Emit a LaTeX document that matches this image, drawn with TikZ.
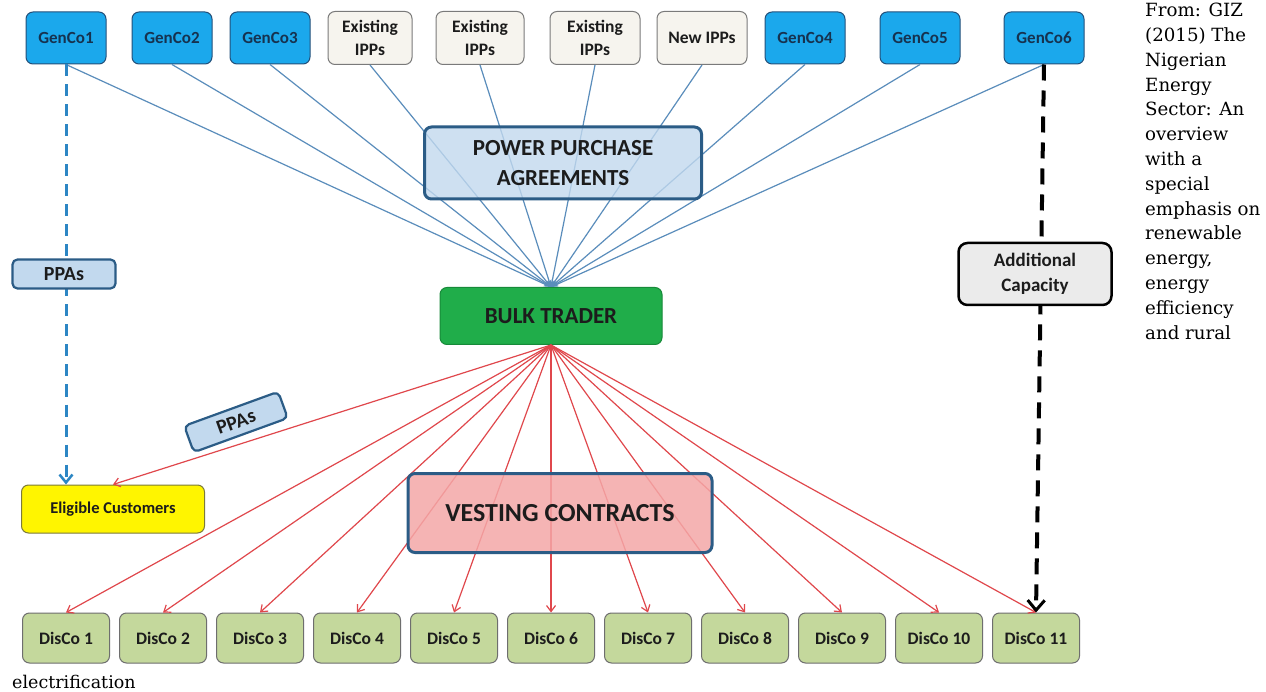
\documentclass[tikz,border=0pt]{standalone}
\usepackage{fontspec}
\setmainfont{Carlito}
\newfontfamily\rtserif{DejaVu Serif}
\usetikzlibrary{arrows.meta}
\definecolor{gencofill}{HTML}{1BA8EC}
\definecolor{gencoedge}{HTML}{24507A}
\definecolor{gencotext}{HTML}{16324F}
\definecolor{ippfill}{HTML}{F6F4EE}
\definecolor{ippedge}{HTML}{7A7A7A}
\definecolor{bluelink}{HTML}{5A8DBB}
\definecolor{redlink}{HTML}{E0474C}
\definecolor{ppafill}{HTML}{C2D9EE}
\definecolor{darkedge}{HTML}{2B5C86}
\definecolor{btfill}{HTML}{20AD4A}
\definecolor{btedge}{HTML}{178A39}
\definecolor{vcfill}{HTML}{F4A7A7}
\definecolor{discofill}{HTML}{C4D89C}
\definecolor{discoedge}{HTML}{6E6E6E}
\definecolor{ecfill}{HTML}{FFF500}
\definecolor{ecedge}{HTML}{7C7A3A}
\definecolor{acfill}{HTML}{EBEBEB}
\definecolor{dashblue}{HTML}{2C86C4}
\definecolor{txt}{HTML}{1C1C1C}
\begin{document}
\begin{tikzpicture}[x=1pt,y=-1pt,
  box/.style={draw, rounded corners=7pt, align=center, inner sep=0pt, line width=1pt,
    text=txt, font=\bfseries\fontsize{17.5}{23}\selectfont},
  gencobox/.style={box, fill=gencofill, draw=gencoedge, text=gencotext, minimum width=80pt, minimum height=52pt,
    font=\bfseries\fontsize{17}{21}\selectfont},
  ippbox/.style={box, fill=ippfill, draw=ippedge, minimum height=53pt},
  discobox/.style={box, fill=discofill, draw=discoedge, minimum width=87pt, minimum height=50pt},
  bluelinkstyle/.style={draw=bluelink, line width=1.2pt, -{Stealth[length=7pt,width=5pt]}},
  redlinkstyle/.style={draw=redlink, line width=1.2pt, -{Straight Barb[length=6pt,width=9pt]}},
]
\useasboundingbox (0,0) rectangle (1266,692);
\fill[white] (0,0) rectangle (1266,692);

% top row
\node[gencobox] (g1) at (66,38) {GenCo1};
\node[gencobox] (g2) at (172,38) {GenCo2};
\node[gencobox] (g3) at (270,38) {GenCo3};
\node[ippbox, minimum width=84pt] (e1) at (370,38) {Existing\\IPPs};
\node[ippbox, minimum width=88pt] (e2) at (480,38) {Existing\\IPPs};
\node[ippbox, minimum width=90pt] (e3) at (595,38) {Existing\\IPPs};
\node[ippbox, minimum width=90pt] (n1) at (702,38) {New IPPs};
\node[gencobox] (g4) at (805,38) {GenCo4};
\node[gencobox] (g5) at (920,38) {GenCo5};
\node[gencobox] (g6) at (1044,38) {GenCo6};

% bulk trader
\node[box, fill=btfill, draw=btedge, minimum width=222pt, minimum height=57pt,
  font=\bfseries\fontsize{23}{26}\selectfont] (bt) at (551,316) {BULK TRADER};

% disco row
\foreach \i in {1,...,11} {
  \node[discobox] (d\i) at ({66+97*(\i-1)},638) {DisCo \i};
}

% eligible customers
\node[box, fill=ecfill, draw=ecedge, minimum width=183pt, minimum height=48pt,
  font=\bfseries\fontsize{16.5}{20}\selectfont] (ec) at (113,509) {Eligible Customers};
\coordinate (ectop) at (g1.south |- ec.north);

% blue links
\foreach \n in {g1,g2,g3,e1,e2,e3,n1,g4,g5,g6} {
  \draw[bluelinkstyle] (\n.south) -- (bt.north);
}

% red links
\foreach \i in {1,...,11} {
  \draw[redlinkstyle] (bt.south) -- (d\i.north);
}
\draw[redlinkstyle] (bt.south) -- (ec.north);

% dashed links
\draw[draw=dashblue, line width=3pt, dash pattern=on 12pt off 8pt,
  -{Straight Barb[length=8pt,width=13pt,line width=2.5pt]}] (g1.south) -- (ectop);
\draw[draw=black, line width=4pt, dash pattern=on 16pt off 10pt,
  -{Straight Barb[length=10pt,width=17pt,line width=3pt]}] (g6.south) -- (d11.north);

% labels
\node[box, fill=ppafill, draw=darkedge, line width=3pt, fill opacity=0.8, text opacity=1,
  minimum width=277pt, minimum height=72pt, font=\bfseries\fontsize{23}{30}\selectfont]
  (ppa) at (563,163) {POWER PURCHASE\\AGREEMENTS};
\node[box, fill=vcfill, draw=darkedge, line width=3pt, fill opacity=0.85, text opacity=1,
  minimum width=304pt, minimum height=79pt, font=\bfseries\fontsize{26}{30}\selectfont]
  (vc) at (560,513) {VESTING CONTRACTS};
\node[box, fill=ppafill, draw=darkedge, line width=2.2pt, rounded corners=5pt,
  minimum width=103pt, minimum height=29pt, font=\bfseries\fontsize{20}{22}\selectfont]
  (ppal) at (64,274) {PPAs};
\node[box, fill=ppafill, draw=darkedge, line width=2.2pt, rounded corners=5pt, rotate=20,
  minimum width=100pt, minimum height=28pt, font=\bfseries\fontsize{20}{22}\selectfont]
  (ppar) at (236,422) {PPAs};
\node[box, fill=acfill, draw=black, line width=2.5pt, rounded corners=9pt,
  minimum width=153pt, minimum height=62pt, font=\bfseries\fontsize{19}{25}\selectfont]
  (ac) at (1035,274) {Additional\\Capacity};

% source text
\node[anchor=north west, align=left, inner sep=0pt, text=black,
  font=\rtserif\fontsize{18.2}{24.8}\selectfont] (src) at (1145,3)
  {From: GIZ\\(2015) The\\Nigerian\\Energy\\Sector: An\\overview\\with a\\special\\emphasis on\\renewable\\energy,\\energy\\efficiency\\and rural};
\node[anchor=west, inner sep=0pt, text=black,
  font=\rtserif\fontsize{17.5}{23.5}\selectfont] (src2) at (12,682) {electrification};
\end{tikzpicture}
\end{document}
